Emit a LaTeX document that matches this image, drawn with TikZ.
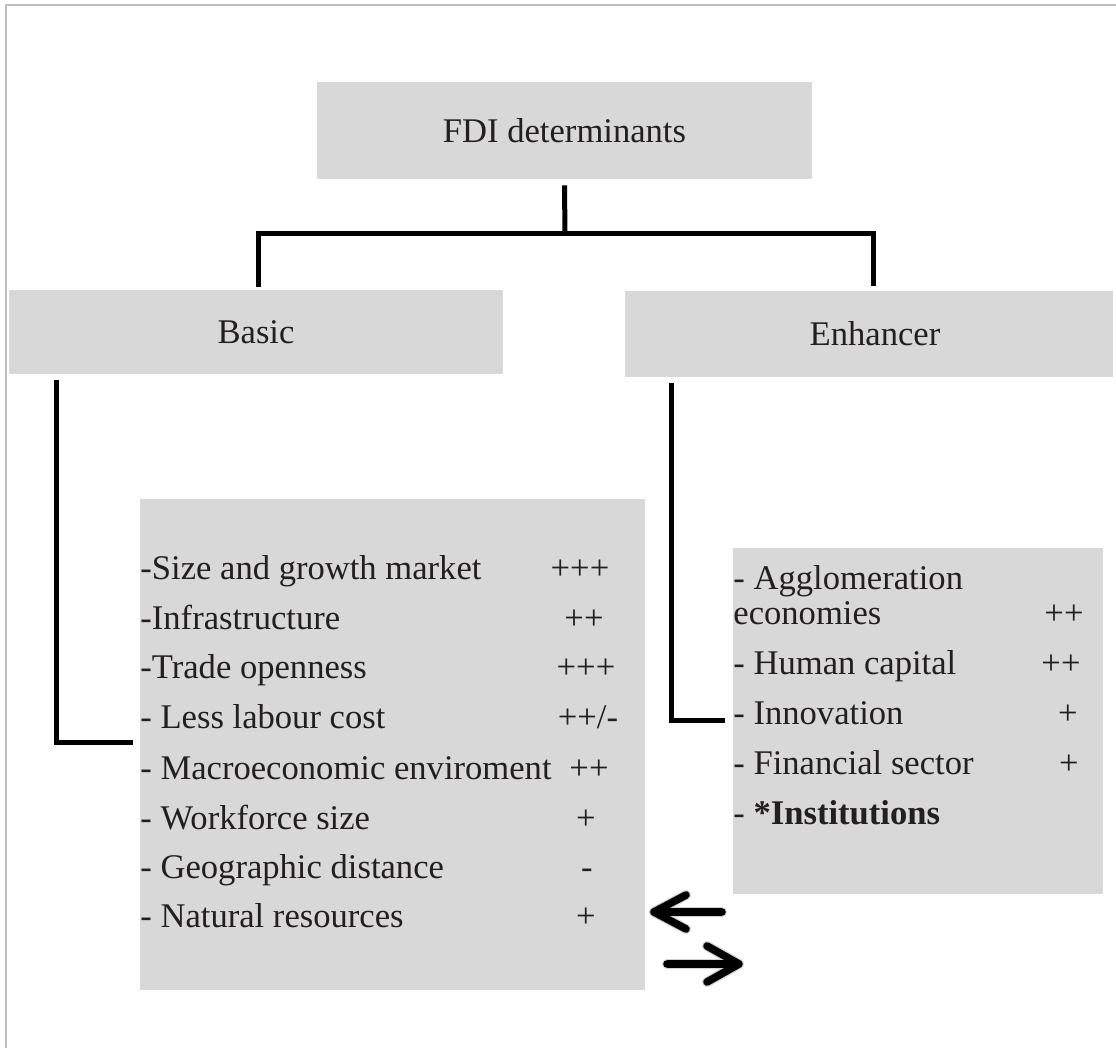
\documentclass[tikz,border=0pt]{standalone}
\usepackage{fontspec}
\setmainfont{Liberation Serif}
\usetikzlibrary{calc}
\definecolor{boxgray}{RGB}{216,216,216}
\definecolor{txt}{RGB}{35,31,32}
\definecolor{framegray}{RGB}{190,190,190}
\begin{document}
\begin{tikzpicture}[x=0.5pt,y=-0.5pt,
  box/.style={fill=boxgray,draw=none,inner sep=0pt,text=txt,font=\fontsize{17.3pt}{20pt}\selectfont},
  item/.style={anchor=base west,inner sep=0pt,text=txt,font=\fontsize{17.3pt}{20pt}\selectfont},
  sign/.style={anchor=base,inner sep=0pt,text=txt,font=\fontsize{17.3pt}{20pt}\selectfont},
  conn/.style={draw=black,line width=2.5pt,line join=miter},
  bigarrow/.style={draw=black,line width=3.8pt,line cap=round,line join=round},
  arrowshadow/.style={draw=black,opacity=0.18,line width=5pt,line cap=round,line join=round}]
\useasboundingbox (0,0) rectangle (1116,1048);
\fill[white] (0,0) rectangle (1116,1048);
% frame
\draw[framegray,line width=1pt] (6,1048) -- (6,5) -- (1116,5);
% boxes
\node[box,minimum width=247.5pt,minimum height=48.5pt] (fdi) at (564.5,130.5) {FDI determinants};
\node[box,minimum width=247pt,minimum height=42pt] (basic) at (256,332) {Basic};
\node[box,minimum width=244pt,minimum height=43pt] (enh) at (869,334) {\hspace*{6pt}Enhancer};
\node[box,minimum width=252.5pt,minimum height=245.5pt] (blist) at (392.5,744.5) {};
\node[box,minimum width=185pt,minimum height=173pt] (elist) at (918,721) {};
% connectors
\coordinate (bar) at (565,234);
\draw[conn] ([yshift=-3pt]fdi.south) -- (bar);
\draw[conn] ([xshift=1pt,yshift=1.5pt]basic.north) |- (bar);
\draw[conn] ([xshift=2pt,yshift=2.5pt]enh.north) |- (bar);
\draw[conn] ([xshift=24pt,yshift=-3pt]basic.south west) |- ([xshift=-3.5pt,yshift=0.75pt]blist.west);
\draw[conn] ([xshift=23.5pt,yshift=-3pt]enh.south west) |- ([xshift=-4pt]elist.west);
% basic items
\node[item] (b1) at (140,580) {-Size and growth market};
\node[item] (b2) at (140,630) {-Infrastructure};
\node[item] (b3) at (140,679) {-Trade openness};
\node[item] (b4) at (140,729) {- Less labour cost};
\node[item] (b5) at (140,780) {- Macroeconomic enviroment};
\node[item] (b6) at (140,830) {- Workforce size};
\node[item] (b7) at (140,878) {- Geographic distance};
\node[item] (b8) at (140,928) {- Natural resources};
\node[sign] (s1) at (580,580) {+++};
\node[sign] (s2) at (584,630) {++};
\node[sign] (s3) at (586,679) {+++};
\node[sign] (s4) at (588,729) {++/-};
\node[sign] (s5) at (589,780) {++};
\node[sign] (s6) at (586,830) {+};
\node[sign] (s7) at (587,878) {-};
\node[sign] (s8) at (586,928) {+};
% enhancer items
\node[item] (e1) at (733,590) {- Agglomeration};
\node[item] (e1b) at (733,625) {economies};
\node[item] (e2) at (733,675) {- Human capital};
\node[item] (e3) at (733,725) {- Innovation};
\node[item] (e4) at (733,775) {- Financial sector};
\node[item] (e5) at (733,825) {- \textbf{*Institutions}};
\node[sign] (t1) at (1064,625) {++};
\node[sign] (t2) at (1061,675) {++};
\node[sign] (t3) at (1068,725) {+};
\node[sign] (t4) at (1069,775) {+};
% arrows
\coordinate (la1) at (722,912);
\coordinate (la2) at (654,912);
\coordinate (lw1) at (686,895);
\coordinate (lw2) at (686,929);
\coordinate (ra1) at (667,964);
\coordinate (ra2) at (739,964);
\coordinate (rw1) at (707,946);
\coordinate (rw2) at (707,982);
\draw[arrowshadow,shift={(3,4)}] (la1) -- (la2) (lw1) -- (la2) -- (lw2);
\draw[arrowshadow,shift={(3,4)}] (ra1) -- (ra2) (rw1) -- (ra2) -- (rw2);
\draw[bigarrow] (la1) -- (la2) (lw1) -- (la2) -- (lw2);
\draw[bigarrow] (ra1) -- (ra2) (rw1) -- (ra2) -- (rw2);
\end{tikzpicture}
\end{document}
